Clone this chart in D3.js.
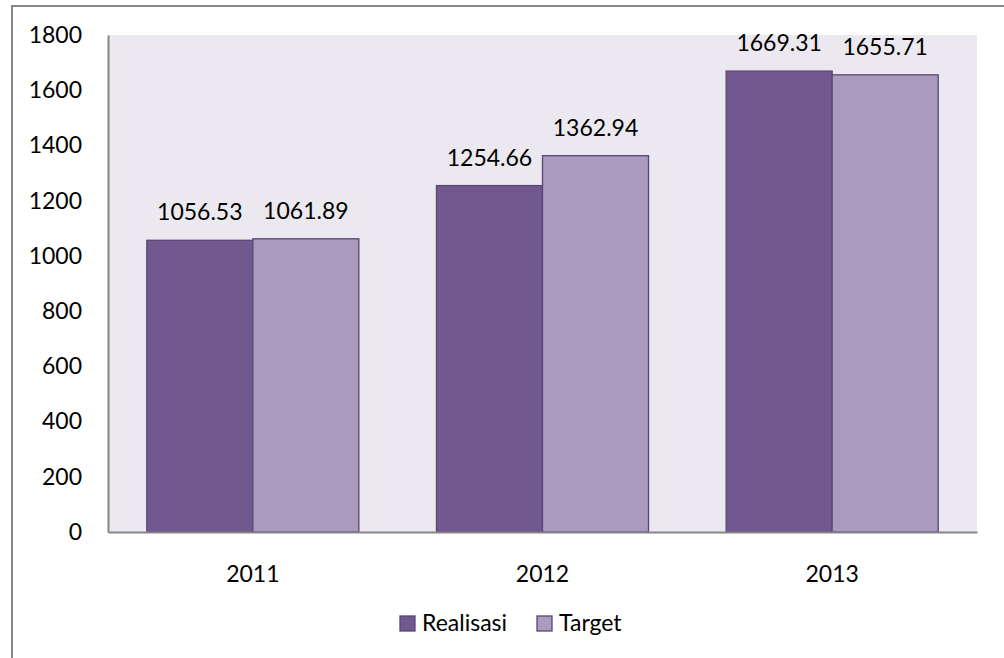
<!DOCTYPE html>
<html>
<head>
<meta charset="utf-8">
<script src="https://cdn.jsdelivr.net/npm/d3@7"></script>
<style>
  body { margin: 0; background: #fff; }
  svg { display: block; font-family: Lato, "Open Sans", sans-serif; }
</style>
</head>
<body>
<div id="chart"></div>
<script>
// chart values
const years = ["2011", "2012", "2013"];
const seriesNames = ["Realisasi", "Target"];
const realisasi = [1056.53, 1254.66, 1669.31];
const target = [1061.89, 1362.94, 1655.71];
const yTicks = [0, 200, 400, 600, 800, 1000, 1200, 1400, 1600, 1800];
const colors = ["#71588f", "#a99bbd"];

const W = 1004, H = 658;
const plot = {left: 108, top: 35, right: 977, bottom: 532};
const fs = "23px";

const svg = d3.select("#chart").append("svg").attr("width", W).attr("height", H);

// outer chart border (only top and left visible)
svg.append("rect").attr("x", 12).attr("y", 6).attr("width", 1100).attr("height", 800)
  .attr("fill", "none").attr("stroke", "#868686").attr("stroke-width", 2);

// plot area
svg.append("rect").attr("x", plot.left).attr("y", plot.top)
  .attr("width", plot.right - plot.left).attr("height", plot.bottom - plot.top)
  .attr("fill", "#ebe9ef");

const x0 = d3.scaleBand().domain(years).range([plot.left, plot.right]).padding(0);
const x1 = d3.scaleBand().domain(seriesNames).range([0, x0.bandwidth()])
  .paddingInner(0).paddingOuter(0.366);
const y = d3.scaleLinear().domain([0, 1800]).range([plot.bottom, plot.top]);

const rows = years.map((yr, i) => ({year: yr, vals: [realisasi[i], target[i]]}));

const groups = svg.selectAll("g.grp").data(rows).enter().append("g")
  .attr("class", "grp")
  .attr("transform", d => `translate(${x0(d.year)},0)`);

groups.selectAll("rect").data(d => d.vals.map((v, j) => ({name: seriesNames[j], v: v, j: j})))
  .enter().append("rect")
  .attr("x", d => x1(d.name))
  .attr("y", d => y(d.v))
  .attr("width", x1.bandwidth())
  .attr("height", d => y(0) - y(d.v))
  .attr("fill", d => colors[d.j])
  .attr("stroke", "#5c4677")
  .attr("stroke-width", 1.3);

groups.selectAll("text").data(d => d.vals.map((v, j) => ({name: seriesNames[j], v: v, j: j})))
  .enter().append("text")
  .attr("x", d => x1(d.name) + x1.bandwidth() / 2)
  .attr("y", d => y(d.v) - 20)
  .attr("text-anchor", "middle")
  .style("font-size", fs)
  .attr("fill", "#000")
  .text(d => d.v.toFixed(2));

// y axis
const yAxis = svg.append("g").attr("transform", `translate(${plot.left},0)`)
  .call(d3.axisLeft(y).tickValues(yTicks).tickFormat(d3.format("d")).tickSize(0).tickPadding(26));
yAxis.select(".domain").attr("stroke", "#868686").attr("stroke-width", 2);
yAxis.selectAll("text").style("font-size", fs).style("font-family", "Lato, sans-serif").attr("fill", "#000");

// x axis
const xAxis = svg.append("g").attr("transform", `translate(0,${plot.bottom})`)
  .call(d3.axisBottom(x0).tickSize(0).tickPadding(34));
xAxis.select(".domain").attr("stroke", "#868686").attr("stroke-width", 2);
xAxis.selectAll("text").style("font-size", fs).style("font-family", "Lato, sans-serif").attr("fill", "#000");

// legend
const legendX = [400, 537];
const legend = svg.selectAll("g.leg").data(seriesNames).enter().append("g")
  .attr("class", "leg")
  .attr("transform", (d, i) => `translate(${legendX[i]},616)`);
legend.append("rect").attr("width", 15).attr("height", 15)
  .attr("fill", (d, i) => colors[i]).attr("stroke", "#5c4677").attr("stroke-width", 1.3);
legend.append("text").attr("x", 22).attr("y", 15)
  .style("font-size", fs).attr("fill", "#000").text(d => d);
</script>
</body>
</html>
